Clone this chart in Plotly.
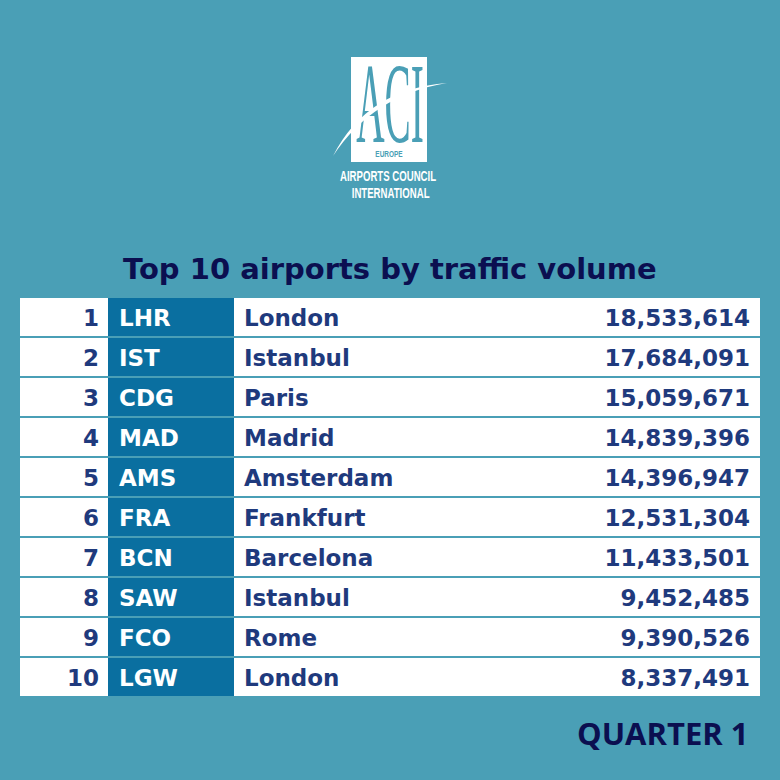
import plotly.graph_objects as go

ranks = list(range(1, 11))
codes = ["LHR", "IST", "CDG", "MAD", "AMS", "FRA", "BCN", "SAW", "FCO", "LGW"]
cities = ["London", "Istanbul", "Paris", "Madrid", "Amsterdam", "Frankfurt", "Barcelona", "Istanbul", "Rome", "London"]
passengers = [18533614, 17684091, 15059671, 14839396, 14396947, 12531304, 11433501, 9452485, 9390526, 8337491]

BG = "#4a9fb6"
BLUE = "#0a6fa0"
NAVY = "#1f3a7d"
DARK = "#0b0f50"
FONT = "DejaVu Sans"
W = 780
ROW = 40
FIRST_ROW = 317
TEXT_DROP = 3
n = len(ranks)


def px(x):
    return x / W


def py(y):
    return 1 - y / W


def row_of(y):
    return 1 + (y - FIRST_ROW) / ROW


def column(x, text, position, color):
    return go.Scatter(x=[x] * n, y=ranks, yaxis="y2", mode="text", text=["<b>" + t + "</b>" for t in text],
                      textposition=position, hoverinfo="skip",
                      textfont=dict(family=FONT, size=23, color=color))


fig = go.Figure(data=[
    go.Bar(y=ranks, x=[740] * n, base=20, orientation="h", width=0.95, marker=dict(color="white", line_width=0), hoverinfo="skip"),
    go.Bar(y=ranks, x=[126] * n, base=108, orientation="h", width=0.95, marker=dict(color=BLUE, line_width=0), hoverinfo="skip"),
    column(99, [str(r) for r in ranks], "middle left", NAVY),
    column(119, codes, "middle right", "white"),
    column(244, cities, "middle right", NAVY),
    column(750, [f"{p:,}" for p in passengers], "middle left", NAVY),
    # drawn as a trace so the swoosh shape can pass over the letters
    go.Scatter(x=[390], y=[row_of(110)], mode="text", text=["ACI"], hoverinfo="skip",
               textfont=dict(family="Liberation Serif", size=74, color=BG)),
])

# logo
fig.add_shape(type="rect", xref="paper", yref="paper", x0=px(351), x1=px(427),
              y0=py(162), y1=py(57), fillcolor="white", line_width=0, layer="below")
swoosh = "M{},{} Q{},{} {},{} Q{},{} {},{} Z".format(
    px(333), py(156), px(367), py(89), px(447), py(83), px(373), py(95), px(333), py(156))
fig.add_shape(type="path", xref="paper", yref="paper", path=swoosh,
              fillcolor="white", line_width=0, layer="above")


def label(text, x, y, size, color, family, xanchor="center"):
    fig.add_annotation(text=text, x=px(x), y=py(y), xref="paper", yref="paper",
                       xanchor=xanchor, yanchor="middle", showarrow=False,
                       font=dict(family=family, size=size, color=color))


label("<b>EUROPE</b>", 389, 154, 9, BG, "Liberation Sans")
label("<b>AIRPORTS COUNCIL</b>", 388, 176, 13, "white", "Liberation Sans")
label("<b>INTERNATIONAL</b>", 390, 192, 13, "white", "Liberation Sans")
label("<b>Top 10 airports by traffic volume</b>", 390, 269, 29, DARK, FONT)
label("<b>QUARTER 1</b>", 751, 733, 31, DARK, "Open Sans", xanchor="right")

fig.update_layout(
    width=W, height=W, margin=dict(l=0, r=0, t=0, b=0),
    paper_bgcolor=BG, plot_bgcolor="rgba(0,0,0,0)", showlegend=False, barmode="overlay",
    xaxis=dict(visible=False, range=[0, W]),
    yaxis=dict(visible=False, range=[row_of(W), row_of(0)]),
    # same rows, text sits a little lower than the row centre
    yaxis2=dict(visible=False, overlaying="y", range=[row_of(W - TEXT_DROP), row_of(-TEXT_DROP)]),
)

# page margin off, and logo letters are condensed (plotly has no font stretch)
squeeze = """
document.body.style.margin = '0';
function stretch(t, how) {
    t.style.transformBox = 'fill-box';
    t.style.transformOrigin = 'center';
    t.style.transform = how;
}
document.querySelectorAll('.textpoint text').forEach(function (t) {
    if (t.textContent === 'ACI') stretch(t, 'scaleX(0.53) scaleY(1.55)');
});
var small = ['scaleX(0.72)', 'scaleX(0.74) scaleY(1.18)', 'scaleX(0.74) scaleY(1.18)'];
document.querySelectorAll('.annotation text').forEach(function (t, i) {
    if (i < small.length) stretch(t, small[i]);
});
"""
fig.write_html("out.html", post_script=squeeze, config=dict(displayModeBar=False))
